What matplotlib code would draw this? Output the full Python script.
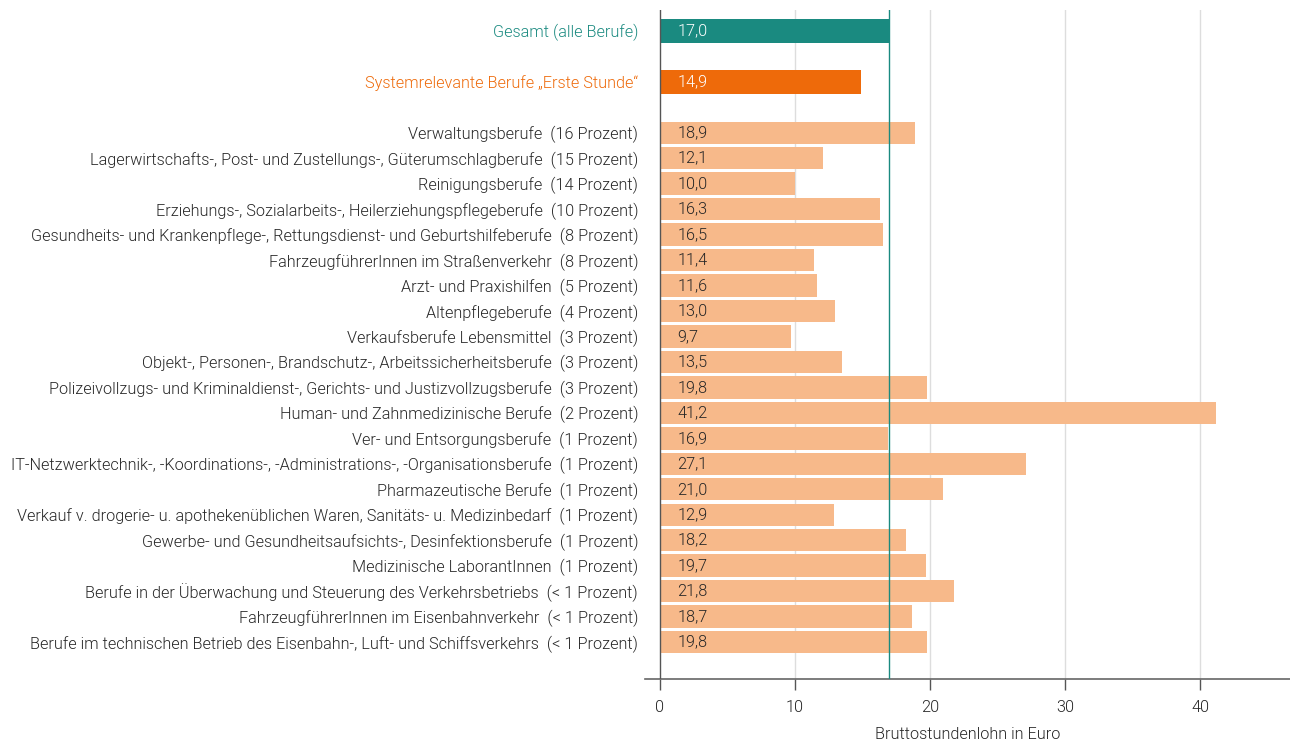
import matplotlib
matplotlib.use("Agg")
import matplotlib.pyplot as plt

categories = [
    "Gesamt (alle Berufe)",
    "Systemrelevante Berufe \u201eErste Stunde\u201c",
    "Verwaltungsberufe  (16 Prozent)",
    "Lagerwirtschafts-, Post- und Zustellungs-, Güterumschlagberufe  (15 Prozent)",
    "Reinigungsberufe  (14 Prozent)",
    "Erziehungs-, Sozialarbeits-, Heilerziehungspflegeberufe  (10 Prozent)",
    "Gesundheits- und Krankenpflege-, Rettungsdienst- und Geburtshilfeberufe  (8 Prozent)",
    "FahrzeugführerInnen im Straßenverkehr  (8 Prozent)",
    "Arzt- und Praxishilfen  (5 Prozent)",
    "Altenpflegeberufe  (4 Prozent)",
    "Verkaufsberufe Lebensmittel  (3 Prozent)",
    "Objekt-, Personen-, Brandschutz-, Arbeitssicherheitsberufe  (3 Prozent)",
    "Polizeivollzugs- und Kriminaldienst-, Gerichts- und Justizvollzugsberufe  (3 Prozent)",
    "Human- und Zahnmedizinische Berufe  (2 Prozent)",
    "Ver- und Entsorgungsberufe  (1 Prozent)",
    "IT-Netzwerktechnik-, -Koordinations-, -Administrations-, -Organisationsberufe  (1 Prozent)",
    "Pharmazeutische Berufe  (1 Prozent)",
    "Verkauf v. drogerie- u. apothekenüblichen Waren, Sanitäts- u. Medizinbedarf  (1 Prozent)",
    "Gewerbe- und Gesundheitsaufsichts-, Desinfektionsberufe  (1 Prozent)",
    "Medizinische LaborantInnen  (1 Prozent)",
    "Berufe in der Überwachung und Steuerung des Verkehrsbetriebs  (< 1 Prozent)",
    "FahrzeugführerInnen im Eisenbahnverkehr  (< 1 Prozent)",
    "Berufe im technischen Betrieb des Eisenbahn-, Luft- und Schiffsverkehrs  (< 1 Prozent)",
]
values = [17.0, 14.9, 18.9, 12.1, 10.0, 16.3, 16.5, 11.4, 11.6, 13.0, 9.7, 13.5,
          19.8, 41.2, 16.9, 27.1, 21.0, 12.9, 18.2, 19.7, 21.8, 18.7, 19.8]
xticks = [0, 10, 20, 30, 40]
x_label = "Bruttostundenlohn in Euro"

TEAL = "#1a8a80"
ORANGE = "#ee6a0a"
LIGHT = "#f7b98a"
TXT = "#262626"
FONT = ["Roboto", "DejaVu Sans"]
FS = 11.7
W = 300

plt.rcParams["font.family"] = FONT

fig = plt.figure(figsize=(12.9, 7.4), dpi=100)
ax = fig.add_axes([645 / 1290, 1 - 679 / 740, 645 / 1290, (679 - 10) / 740])

ypos = [0, 2] + list(range(4, 4 + len(categories) - 2))
colors = [TEAL, ORANGE] + [LIGHT] * (len(categories) - 2)
heights = [0.95, 0.95] + [0.88] * (len(categories) - 2)

for x in xticks[1:]:
    ax.axvline(x, color="#dddddd", lw=1, zorder=0)

ax.barh(ypos, values, height=heights, color=colors, zorder=2)
ax.axvline(values[0], color=TEAL, lw=1, zorder=3)

for i, (y, v) in enumerate(zip(ypos, values)):
    tc = "white" if i < 2 else TXT
    ax.text(1.3, y, f"{v:.1f}".replace(".", ","), va="center", ha="left",
            fontsize=FS, color=tc, fontweight=W, zorder=4)

ax.set_xlim(-1.11, 46.67)
ax.set_ylim(25.45, -0.82)
ax.set_yticks(ypos)
ax.set_yticklabels(categories, fontsize=FS, fontweight=W)
for i, lab in enumerate(ax.get_yticklabels()):
    lab.set_color(TEAL if i == 0 else ORANGE if i == 1 else TXT)
ax.tick_params(axis="y", length=0, pad=5)
ax.set_xticks(xticks)
ax.set_xticklabels([str(t) for t in xticks], fontsize=FS, fontweight=W, color=TXT)
ax.tick_params(axis="x", length=8, width=1, color="#555555", pad=7)

for s in ["top", "right", "left"]:
    ax.spines[s].set_visible(False)
ax.spines["bottom"].set_color("#666666")
ax.spines["bottom"].set_linewidth(1.2)
ax.axvline(0, color="#555555", lw=1, zorder=5)

ax.set_xlabel(x_label, fontsize=FS, fontweight=W, color=TXT, labelpad=9)

fig.savefig("out.png", dpi=100)
